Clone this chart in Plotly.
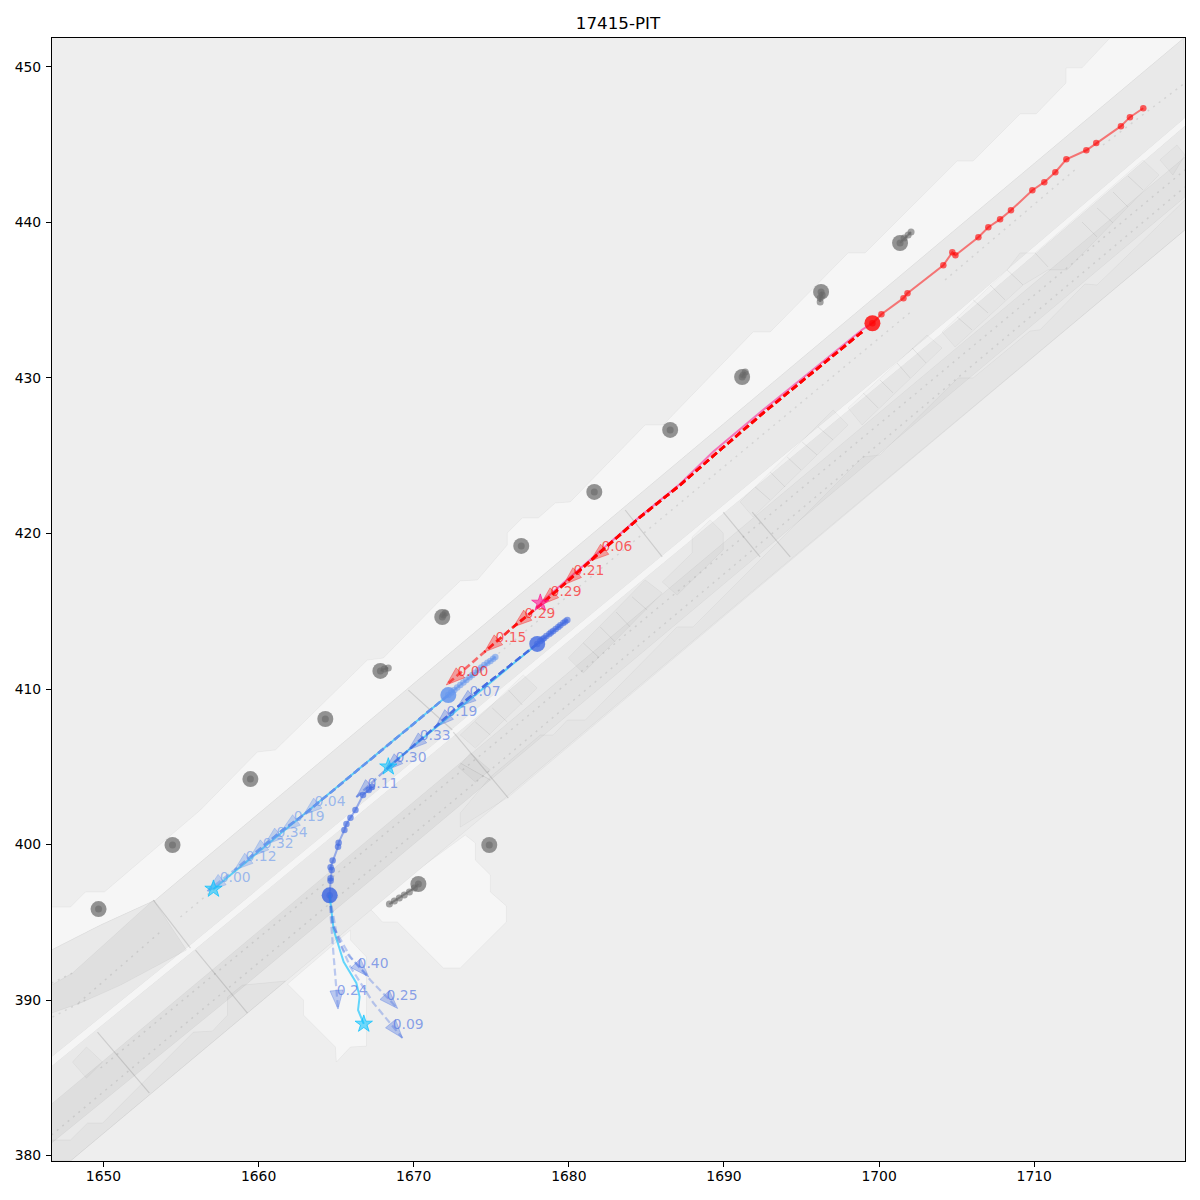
import plotly.graph_objects as go

TITLE = "17415-PIT"
X_RANGE = [1646.68, 1719.72]
Y_RANGE = [379.65, 451.86]
X_TICKS = [1650, 1660, 1670, 1680, 1690, 1700, 1710]
Y_TICKS = [380, 390, 400, 410, 420, 430, 440, 450]

# ---- map geometry (data units) ----
STRIP_X = [1646.65,1647.87,1648.84,1650.06,1656.25,1659.92,1661.08,1667.01,1668.04,1671.71,1673.0,1674.1,1676.03,1676.03,1677.0,1678.03,1679.12,1680.09,1684.92,1686.08,1691.88,1692.98,1698.0,1699.1,1705.03,1706.06,1709.09,1710.12,1712.05,1712.05,1713.08,1714.88,1719.65,1653.35,1649.81,1646.65]
STRIP_Y = [395.98,395.98,396.95,396.95,402.22,405.95,406.08,411.86,411.99,415.72,416.95,417.01,419.26,420.03,421.0,421.0,421.96,422.03,426.98,426.98,432.96,432.96,438.04,438.04,443.95,443.95,446.98,446.98,448.97,449.94,449.94,451.86,451.86,396.43,394.82,393.22]
PATCH1_X = [1661.86,1662.89,1662.89,1664.95,1665.01,1665.92,1666.95,1666.95,1665.92,1665.92]
PATCH1_Y = [391.03,390.0,389.04,386.98,386.01,386.98,387.04,392.77,393.86,394.5]
PATCH2_X = [1667.01,1667.33,1667.98,1668.94,1671.91,1673.0,1675.97,1675.97,1674.94,1674.94,1673.97,1673.97,1673.32]
PATCH2_Y = [395.98,395.72,395.02,395.02,392.06,392.06,395.02,396.05,396.95,398.04,399.0,400.1,400.61]
BAND1_X = [1646.65,1649.81,1653.35,1719.65,1719.72,1705.22,1655.61,1646.65]
BAND1_Y = [393.22,394.82,396.43,451.86,446.72,434.37,393.54,386.33]
WHITE_X = [1646.65,1655.61,1705.22,1719.72,1719.72,1705.22,1655.61,1646.65]
WHITE_Y = [386.33,393.54,434.37,446.72,446.21,433.86,393.02,385.75]
BAND2_X = [1646.65,1655.61,1705.22,1719.72,1719.72,1662.44,1647.87,1646.65]
BAND2_Y = [385.75,393.02,433.86,446.21,439.52,391.8,379.65,379.65]

DARK_POLYS = [
    # lane west of the crossing
    ([1646.65,1673.0,1674.94,1658.38,1646.65], [383.31,405.24,404.15,390.32,380.8], 0.042),
    # lane east of the crossing
    ([1673.0,1719.72,1719.72,1674.94], [405.24,444.21,441.64,404.15], 0.026),
    # branch
    ([1646.65,1648.0,1653.22,1655.35,1651.1,1648.52,1646.65], [390.96,391.74,396.43,393.22,390.96,389.81,389.16], 0.04),
    # outer strips
    ([1646.65,1647.87,1648.97,1649.94,1655.8,1657.02,1657.99,1657.99,1658.96,1661.73,1647.87,1646.65],
     [381.0,381.0,382.09,382.09,387.94,388.0,389.03,390.19,390.96,391.22,379.65,379.65], 0.025),
    ([1673.0,1674.94,1678.16,1678.99,1679.9,1681.06,1686.98,1688.01,1698.97,1700.06,1705.09,1706.06,1709.73,1710.37,1713.27,1714.05,1719.72,1719.72,1676.1,1673.0],
     [402.03,404.34,407.04,407.04,408.0,408.0,413.99,413.99,424.92,425.05,430.0,430.0,433.02,433.09,436.04,435.98,441.45,439.52,403.05,401.12], 0.014),
    # tiles
    ([1648.0,1648.9,1649.94,1648.9], [386.01,386.98,386.01,384.98], 0.02),
    ([1672.87,1673.65,1674.94,1673.97], [404.98,405.88,404.79,404.02], 0.03),
    ([1673.0,1677.06,1677.96,1673.97], [407.04,410.9,410.06,406.2], 0.018),
    ([1679.96,1684.92,1686.02,1680.93], [411.99,417.01,416.17,411.03], 0.022),
    ([1686.02,1687.95,1687.95,1689.11,1689.95,1689.95,1686.98], [416.88,418.75,419.77,420.87,420.03,418.94,416.04], 0.02),
    ([1691.04,1697.04,1698.0,1691.88], [422.03,427.94,426.98,421.06], 0.016),
    ([1698.0,1703.09,1704.06,1698.9], [428.07,432.76,431.93,426.98], 0.016),
    ([1704.06,1708.25,1709.28,1704.9], [432.96,436.95,435.98,431.99], 0.016),
    ([1708.25,1709.09,1710.05,1717.01,1718.04,1712.11,1710.89,1709.28], [436.95,438.04,438.04,444.02,443.05,436.95,436.95,435.98], 0.016),
    ([1718.1,1719.2,1719.72,1718.94], [444.02,444.98,444.34,443.05], 0.02),
]

DIVIDERS = [
    ([1673.97,1674.94],[407.88,407.04]),([1675.06,1676.03],[408.78,407.88]),([1676.1,1677.0],[409.93,408.97]),
    ([1680.93,1681.9],[412.96,412.06]),([1682.02,1682.99],[413.99,413.02]),([1683.05,1683.95],[414.95,413.99]),([1684.08,1685.05],[415.92,415.08]),
    ([1692.01,1692.98],[422.99,422.15]),([1692.98,1693.94],[423.95,422.99]),([1694.07,1694.97],[424.92,424.08]),([1695.04,1696.0],[425.88,425.05]),([1696.07,1697.04],[426.85,426.01]),
    ([1698.97,1699.94],[429.04,428.07]),([1700.06,1700.9],[429.87,429.04]),([1701.16,1702.0],[430.96,430.0]),([1702.13,1703.03],[431.93,430.96]),
    ([1705.03,1705.99],[433.92,433.09]),([1706.06,1707.02],[435.02,434.18]),([1707.15,1708.12],[435.98,435.02]),
    ([1710.05,1710.89],[438.04,437.14]),([1713.08,1714.05],[440.03,439.07]),([1714.05,1715.08],[440.93,439.97]),([1715.08,1716.04],[441.96,441.0]),([1716.04,1717.01],[442.99,442.09]),
]
CROSSINGS = [
    ([1653.22,1655.61],[396.43,393.34]),([1655.93,1659.28],[393.21,389.16]),([1649.61,1652.96],[387.94,384.02]),
    ([1672.55,1676.1],[407.23,402.99]),([1689.95,1692.33],[421.38,418.49]),([1691.82,1694.27],[421.38,418.49]),
    ([1683.63,1686.02],[421.51,418.49]),([1669.65,1672.49],[409.93,407.36]),
]
DOTTED = [
    ([1654.96,1702.19],[395.34,434.37]),([1704.25,1712.76],[436.3,443.5]),([1714.43,1719.72],[444.98,448.97]),
    ([1648.39,1653.8],[389.81,394.5]),([1646.65,1648.0],[391.09,391.74]),([1646.71,1648.84],[388.91,390.0]),
    ([1649.81,1674.94,1719.72],[385.63,406.27,443.38]),([1646.65,1674.94,1719.72],[381.32,404.79,442.28]),
]

# ---- gates (grey agents) ----
GREY_X = [1649.68,1654.45,1659.47,1664.3,1667.85,1671.84,1676.93,1681.64,1686.53,1691.17,1696.26,1701.35,1674.87,1670.3]
GREY_Y = [395.85,399.97,404.21,408.07,411.16,414.63,419.2,422.67,426.66,430.06,435.53,438.68,399.97,397.46]
GREY_HIST = [
    ([1668.43,1668.75,1669.07,1669.39,1669.72,1670.04,1670.3],[396.17,396.37,396.56,396.75,396.95,397.2,397.46]),
    ([1702.06,1701.87,1701.61,1701.35],[439.39,439.2,439.0,438.68]),
    ([1696.2,1696.2,1696.33,1696.26],[434.89,435.14,435.34,435.53]),
    ([1691.37,1691.24,1691.17],[430.39,430.19,430.06]),
    ([1668.36,1668.1,1667.85],[411.35,411.29,411.16]),
    ([1672.04,1671.91,1671.84],[414.89,414.76,414.63]),
    ([1649.68],[395.85]),([1654.45],[399.97]),([1659.47],[404.21]),([1664.3],[408.07]),([1676.93],[419.2]),
    ([1681.64],[422.67]),([1686.53],[426.66]),([1674.87],[399.97]),
]

# ---- red agent ----
RED_HIST_X = [1717.03,1716.17,1715.59,1714.0,1713.36,1712.07,1711.36,1710.65,1709.88,1708.5,1707.8,1707.04,1706.4,1704.92,1704.72,1704.14,1701.83,1701.57,1700.15,1699.57]
RED_HIST_Y = [447.34,446.77,446.19,445.11,444.64,444.06,443.23,442.59,442.07,440.78,440.2,439.69,439.05,437.89,438.08,437.25,435.45,435.13,434.1,433.52]
RED_GT_X = [1699.57,1698.9,1695.75,1692.53,1689.3,1687.18,1684.6,1682.0,1679.64,1678.16]
RED_GT_Y = [433.52,433.1,430.55,427.95,425.25,423.2,421.1,418.85,416.85,415.53]
RED_PATH_X = [1698.9,1695.75,1692.53,1689.3,1687.18,1684.6,1682.02]
RED_PATH_Y = [432.96,430.39,427.75,424.98,423.12,421.06,418.75]
RED_TIP_X = [1681.38,1679.64,1678.16,1676.42,1674.55,1672.1]
RED_TIP_Y = [418.23,416.69,415.4,413.99,412.38,410.26]
RED_LABELS = ["0.06","0.21","0.29","0.29","0.15","0.00"]
RED_LABEL_X = [1682.1,1680.3,1678.82,1677.14,1675.27,1672.82]
RED_LABEL_Y = [419.08,417.54,416.19,414.77,413.23,411.04]

# ---- blue agent A (east) ----
A_HIST_X = [1679.9,1679.77,1679.64,1679.45,1679.32,1679.15,1678.99,1678.85,1678.74,1678.55,1678.41,1678.3,1678.16,1677.96]
A_HIST_Y = [414.44,414.34,414.24,414.1,413.99,413.86,413.73,413.63,413.54,413.4,413.28,413.2,413.09,412.9]
A_GT_X = [1677.96,1668.36]
A_GT_Y = [412.9,405.0]
A_TIP_X = [1672.81,1671.39,1669.65,1668.11,1666.3]
A_TIP_Y = [408.84,407.56,406.08,404.73,403.05]
A_LABELS = ["0.07","0.19","0.33","0.30","0.11"]
A_LABEL_X = [1673.6,1672.11,1670.38,1668.83,1667.02]
A_LABEL_Y = [409.76,408.47,406.93,405.51,403.84]

# ---- blue agent B (cornflower) ----
B_HIST_X = [1675.26,1675.12,1674.94,1674.75,1674.55,1674.35,1674.16,1673.95,1673.78,1673.6,1673.39,1673.2,1673.0,1672.8,1672.62,1672.42,1672.23]
B_HIST_Y = [412.06,411.95,411.8,411.68,411.54,411.38,411.22,411.05,410.9,410.75,410.58,410.42,410.26,410.1,409.94,409.78,409.61]
B_GT_X = [1672.23,1657.09]
B_GT_Y = [409.61,397.14]
B_TIP_X = [1662.89,1661.47,1660.37,1659.47,1658.44,1656.7]
B_TIP_Y = [401.9,400.87,399.97,399.2,398.36,397.01]
B_LABELS = ["0.04","0.19","0.34","0.32","0.12","0.00"]
B_LABEL_X = [1663.61,1662.26,1661.16,1660.26,1659.16,1657.49]
B_LABEL_Y = [402.68,401.72,400.7,399.98,399.15,397.8]

# ---- blue agent C (turning south) ----
C_HIST_X = [1667.31,1667.1,1666.73,1666.24,1665.92,1665.66,1665.53,1665.16,1665.12,1664.77,1664.64,1664.71,1664.64,1664.64,1664.58]
C_HIST_Y = [403.72,403.5,403.18,402.22,401.72,401.32,400.93,400.12,399.86,398.98,398.54,398.36,397.83,397.67,396.73]
C_GT_X = [1664.58,1664.63,1664.84,1665.48,1666.3,1666.51,1666.41,1666.78]
C_GT_Y = [396.73,396.24,394.5,392.46,391.1,390.21,389.36,388.46]
C_PRED_24_X = [1664.58,1664.63,1664.82,1665.12]
C_PRED_24_Y = [396.73,395.6,393.02,389.42]
C_PRED_40_X = [1664.58,1664.74,1665.46,1667.09]
C_PRED_40_Y = [396.73,394.95,393.22,391.5]
C_PRED_25_X = [1664.58,1664.82,1665.92,1667.2,1668.96]
C_PRED_25_Y = [396.73,394.69,392.77,391.29,389.46]
C_PRED_09_X = [1664.58,1665.06,1665.92,1667.4,1669.27]
C_PRED_09_Y = [396.73,394.05,392.12,389.81,387.56]
C_LABELS = ["0.24","0.40","0.25","0.09"]
C_LABEL_X = [1665.03,1666.38,1668.25,1668.64]
C_LABEL_Y = [390.53,392.27,390.21,388.34]

BG = "#eeeeee"
LIGHT = "#f6f6f6"
BAND = "#e9e9e9"
FONT = "DejaVu Sans"
DASH = "7px,3.5px"
fig = go.Figure()

def poly(x, y, fill, edge="rgba(0,0,0,0.04)"):
    fig.add_trace(go.Scatter(x=x + x[:1], y=y + y[:1], mode="lines", fill="toself", fillcolor=fill,
                             line=dict(color=edge, width=1), hoverinfo="skip", showlegend=False))

def line(x, y, color, width=1, dash="solid"):
    fig.add_trace(go.Scatter(x=x, y=y, mode="lines", line=dict(color=color, width=width, dash=dash),
                             hoverinfo="skip", showlegend=False))

def hist(x, y, line_color, marker_color, big_color):
    fig.add_trace(go.Scatter(x=x, y=y, mode="lines+markers", line=dict(color=line_color, width=2),
                             marker=dict(color=marker_color, size=6.5, line=dict(width=0)),
                             hoverinfo="skip", showlegend=False))
    fig.add_trace(go.Scatter(x=x[-1:], y=y[-1:], mode="markers", marker=dict(color=big_color, size=16, line=dict(width=0)),
                             hoverinfo="skip", showlegend=False))

def arrow(px, py, color_line, color_head, width=2.2):
    """Dashed path ending in a triangular head pointing along its last segment."""
    line(px, py, color_line, width, DASH)
    dx, dy = px[-1] - px[-2], py[-1] - py[-2]
    n = (dx * dx + dy * dy) ** 0.5
    dx, dy = dx / n, dy / n
    L, W = 1.2, 0.42
    bx, by = px[-1] - L * dx, py[-1] - L * dy
    hx = [bx - W * dy, px[-1], bx + W * dy]
    hy = [by + W * dx, py[-1], by - W * dx]
    poly(hx, hy, color_head, color_head)

def star(x, y, fill, edge):
    fig.add_trace(go.Scatter(x=[x], y=[y], mode="markers",
                             marker=dict(symbol="star", size=13, color=fill, line=dict(color=edge, width=1)),
                             hoverinfo="skip", showlegend=False))

def labels(x, y, text, color):
    fig.add_trace(go.Scatter(x=x, y=y, mode="text", text=text, textposition="middle right",
                             textfont=dict(family=FONT, size=13.9, color=color),
                             hoverinfo="skip", showlegend=False))

# map
poly(STRIP_X, STRIP_Y, LIGHT)
poly(PATCH1_X, PATCH1_Y, LIGHT)
poly(PATCH2_X, PATCH2_Y, LIGHT)
poly(BAND1_X, BAND1_Y, BAND)
poly(BAND2_X, BAND2_Y, BAND)
poly(WHITE_X, WHITE_Y, "#f5f5f5", "rgba(0,0,0,0)")
for px, py, a in DARK_POLYS:
    poly(px, py, f"rgba(0,0,0,{a})")
for px, py in DIVIDERS:
    line(px, py, "rgba(0,0,0,0.07)", 1)
for px, py in CROSSINGS:
    line(px, py, "rgba(0,0,0,0.12)", 1.2)
for px, py in DOTTED:
    line(px, py, "rgba(0,0,0,0.09)", 1.5, "2px,5px")

# gates
fig.add_trace(go.Scatter(x=GREY_X, y=GREY_Y, mode="markers",
                         marker=dict(color="rgba(128,128,128,0.85)", size=16, line=dict(width=0)),
                         hoverinfo="skip", showlegend=False))
for px, py in GREY_HIST:
    fig.add_trace(go.Scatter(x=px, y=py, mode="lines+markers", line=dict(color="rgba(110,110,110,0.7)", width=2),
                             marker=dict(color="rgba(105,105,105,0.6)", size=7, line=dict(width=0)),
                             hoverinfo="skip", showlegend=False))

SKY = "rgba(0,191,255,0.6)"
STAR_BLUE = "rgba(0,191,255,0.55)"
STAR_EDGE = "rgba(0,191,255,0.7)"
# agent B
line(B_GT_X, B_GT_Y, SKY, 2)
B_TIP_LINE = "rgba(100,149,237,0.5)"
B_HEAD = "rgba(100,149,237,0.33)"
for i in range(len(B_TIP_X)):
    arrow(B_GT_X[:1] + B_TIP_X[:i + 1], B_GT_Y[:1] + B_TIP_Y[:i + 1], B_TIP_LINE, B_HEAD)
hist(B_HIST_X, B_HIST_Y, "rgba(100,149,237,0.6)", "rgba(100,149,237,0.55)", "rgba(100,149,237,0.85)")
star(B_GT_X[-1], B_GT_Y[-1], STAR_BLUE, STAR_EDGE)
labels(B_LABEL_X, B_LABEL_Y, B_LABELS, "rgba(100,149,237,0.6)")

# agent A
line(A_GT_X, A_GT_Y, SKY, 2)
A_LINE = "rgba(65,105,225,0.5)"
A_HEAD = "rgba(65,105,225,0.33)"
for i in range(len(A_TIP_X)):
    arrow(A_GT_X[:1] + A_TIP_X[:i + 1], A_GT_Y[:1] + A_TIP_Y[:i + 1], A_LINE, A_HEAD)
hist(A_HIST_X, A_HIST_Y, "rgba(65,105,225,0.6)", "rgba(65,105,225,0.6)", "rgba(65,105,225,0.8)")
star(A_GT_X[-1], A_GT_Y[-1], STAR_BLUE, STAR_EDGE)
labels(A_LABEL_X, A_LABEL_Y, A_LABELS, "rgba(65,105,225,0.6)")

# agent C
hist(C_HIST_X, C_HIST_Y, "rgba(65,105,225,0.5)", "rgba(65,105,225,0.65)", "rgba(65,105,225,0.85)")
line(C_GT_X, C_GT_Y, SKY, 2)
for px, py in [(C_PRED_24_X, C_PRED_24_Y), (C_PRED_40_X, C_PRED_40_Y), (C_PRED_25_X, C_PRED_25_Y), (C_PRED_09_X, C_PRED_09_Y)]:
    arrow(px, py, "rgba(65,105,225,0.33)", A_HEAD)
star(C_GT_X[-1], C_GT_Y[-1], STAR_BLUE, STAR_EDGE)
labels(C_LABEL_X, C_LABEL_Y, C_LABELS, "rgba(65,105,225,0.6)")

# red agent
line(RED_GT_X, RED_GT_Y, "rgba(255,20,147,0.55)", 2)
for i in range(len(RED_TIP_X)):
    arrow(RED_PATH_X + RED_TIP_X[:i + 1], RED_PATH_Y + RED_TIP_Y[:i + 1], "rgba(255,0,0,0.55)", "rgba(255,0,0,0.33)", 2.6)
hist(RED_HIST_X, RED_HIST_Y, "rgba(255,0,0,0.5)", "rgba(255,0,0,0.62)", "rgba(255,0,0,0.8)")
star(RED_GT_X[-1], RED_GT_Y[-1], "rgba(255,20,147,0.6)", "rgba(255,20,147,0.7)")
labels(RED_LABEL_X, RED_LABEL_Y, RED_LABELS, "rgba(255,0,0,0.62)")

axis = dict(showgrid=False, zeroline=False, showline=True, mirror=True, linecolor="black", linewidth=1.1,
            ticks="outside", ticklen=5, tickwidth=1.1, tickcolor="black",
            tickfont=dict(family=FONT, size=13.9, color="black"))
fig.update_layout(
    width=1200, height=1200, autosize=False,
    margin=dict(l=51.5, r=15, t=38, b=39),
    paper_bgcolor="white", plot_bgcolor=BG, showlegend=False,
    title=dict(text=TITLE, x=618 / 1200, xanchor="center", y=1 - 23 / 1200, yanchor="middle",
               font=dict(family=FONT, size=16.7, color="black")),
    xaxis=dict(axis, range=X_RANGE, tickvals=X_TICKS, ticklabelstandoff=-3),
    yaxis=dict(axis, range=Y_RANGE, tickvals=Y_TICKS, ticklabelstandoff=2),
)
fig.write_html("out.html", config={"displayModeBar": False}, post_script="document.body.style.margin='0';")
